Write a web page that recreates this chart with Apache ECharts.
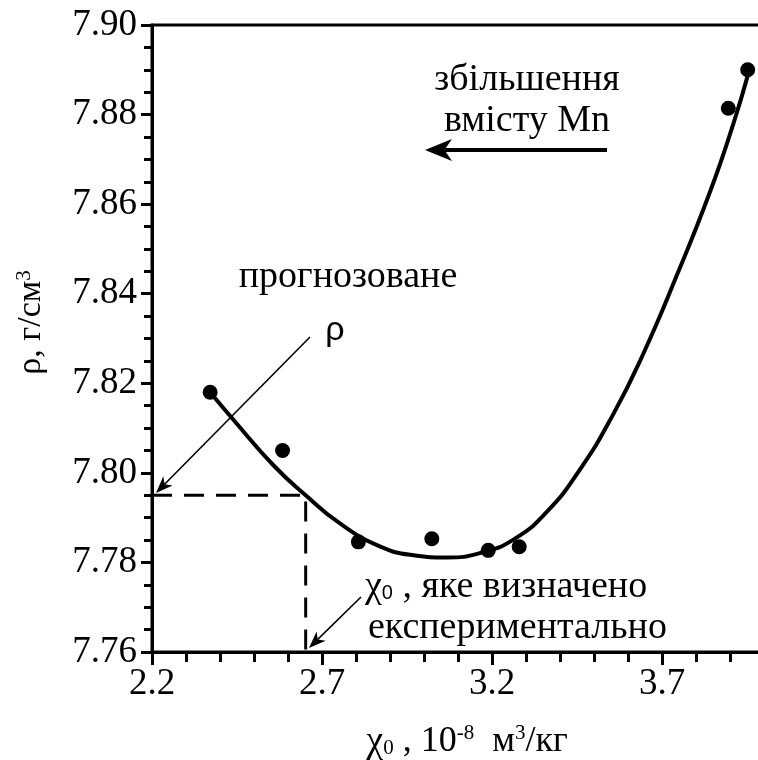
<!DOCTYPE html>
<html>
<head>
<meta charset="utf-8">
<script src="https://cdn.jsdelivr.net/npm/echarts@6/dist/echarts.min.js"></script>
<style>
  html, body { margin: 0; padding: 0; background: #fff; }
  #chart { width: 758px; height: 760px; }
</style>
</head>
<body>
<div id="chart"></div>
<script>
// Measured points: susceptibility χ0 (10^-8 m^3/kg) vs density ρ (g/cm^3)
const pointX = [2.371, 2.584, 2.807, 3.023, 3.189, 3.280, 3.895, 3.952];
const pointY = [7.818, 7.805, 7.7846, 7.7853, 7.7827, 7.7835, 7.8814, 7.890];

// Fitted curve through the measurements
const curveX = [2.371, 2.44, 2.557, 2.652, 2.753, 2.87, 2.969, 3.067, 3.165, 3.263, 3.361, 3.459, 3.556, 3.645, 3.743, 3.841, 3.91, 3.954];
const curveY = [7.818, 7.8118, 7.8017, 7.795, 7.7887, 7.7836, 7.7816, 7.7811, 7.7821, 7.7851, 7.7913, 7.8008, 7.8130, 7.8266, 7.8440, 7.8627, 7.878, 7.8892];

// Projection of the experimental χ0 onto the curve and the predicted ρ
const guideX = [2.2, 2.652, 2.652];
const guideY = [7.795, 7.795, 7.76];

// Axis ticks
const xTickLabels = [2.2, 2.7, 3.2, 3.7];
const yTickLabels = [7.76, 7.78, 7.80, 7.82, 7.84, 7.86, 7.88, 7.90];

const zip = (xs, ys) => xs.map((x, i) => [x, ys[i]]);

const SERIF = '"Liberation Serif", "Times New Roman", serif';
const INK = '#000';

// Straight arrow with a notched filled head, from (x1,y1) to the tip (x2,y2)
function arrow(x1, y1, x2, y2, lw, headLen, headW) {
  const dx = x2 - x1, dy = y2 - y1, L = Math.hypot(dx, dy);
  const ux = dx / L, uy = dy / L, px = -uy, py = ux;
  const bx = x2 - ux * headLen, by = y2 - uy * headLen;
  const nx = x2 - ux * headLen * 0.72, ny = y2 - uy * headLen * 0.72;
  return {
    type: 'group',
    children: [
      { type: 'line', shape: { x1: x1, y1: y1, x2: nx, y2: ny },
        style: { stroke: INK, lineWidth: lw } },
      { type: 'polygon',
        shape: { points: [[x2, y2], [bx + px * headW / 2, by + py * headW / 2], [nx, ny], [bx - px * headW / 2, by - py * headW / 2]] },
        style: { fill: INK } }
    ]
  };
}

function label(text, x, y, align, extra) {
  return {
    type: 'text',
    style: Object.assign({
      text: text, x: x, y: y,
      font: '38px ' + SERIF,
      fill: INK, align: align, verticalAlign: 'middle'
    }, extra || {})
  };
}

const chart = echarts.init(document.getElementById('chart'), null, { renderer: 'canvas' });

chart.setOption({
  backgroundColor: '#fff',
  animation: false,
  grid: {
    left: 152, top: 25, width: 680, bottom: 108,
    outerBoundsMode: 'none', containLabel: false,
    show: true, borderColor: INK, borderWidth: 3, backgroundColor: 'transparent'
  },
  xAxis: [
    {
      type: 'value', min: 2.2, max: 4.2, interval: 0.1,
      position: 'bottom',
      name: '{chi|χ}{sub|0}{t| , 10}{sup|-8}{t|  м}{sup|3}{t|/кг}',
      nameLocation: 'middle', nameGap: 71,
      nameTextStyle: {
        padding: [0, 50, 0, 0],
        rich: {
          chi: { fontFamily: SERIF, fontSize: 38, color: INK },
          t: { fontFamily: SERIF, fontSize: 36, color: INK },
          sub: { fontFamily: SERIF, fontSize: 21, color: INK, verticalAlign: 'bottom', padding: [0, 0, 2, 0] },
          sup: { fontFamily: SERIF, fontSize: 21, color: INK, verticalAlign: 'top' }
        }
      },
      axisLine: { show: true, onZero: false, lineStyle: { color: INK, width: 3 } },
      axisTick: { show: true, inside: false, length: 10, lineStyle: { color: INK, width: 3 } },
      axisLabel: {
        customValues: xTickLabels,
        formatter: v => v.toFixed(1),
        fontFamily: SERIF, fontSize: 37, color: INK, margin: 14
      },
      splitLine: { show: false }
    },
    {
      type: 'value', min: 2.2, max: 4.2,
      position: 'bottom',
      axisLine: { show: false },
      axisTick: { show: true, customValues: xTickLabels, length: 13, lineStyle: { color: INK, width: 3 } },
      axisLabel: { show: false },
      splitLine: { show: false }
    }
  ],
  yAxis: {
    type: 'value', min: 7.76, max: 7.90, interval: 0.02,
    name: '{t|ρ, г/см}{sup|3}',
    nameLocation: 'middle', nameRotate: 90, nameGap: 104,
    nameTextStyle: {
      padding: [0, 0, 0, 32],
      rich: {
        t: { fontFamily: SERIF, fontSize: 34, color: INK },
        sup: { fontFamily: SERIF, fontSize: 21, color: INK, verticalAlign: 'top' }
      }
    },
    axisLine: { show: true, onZero: false, lineStyle: { color: INK, width: 3 } },
    axisTick: { show: true, length: 11, lineStyle: { color: INK, width: 3 } },
    minorTick: { show: true, splitNumber: 4, length: 8, lineStyle: { color: INK, width: 3 } },
    axisLabel: {
      formatter: v => v.toFixed(2),
      fontFamily: SERIF, fontSize: 37, color: INK, margin: 15
    },
    splitLine: { show: false },
    minorSplitLine: { show: false }
  },
  series: [
    {
      type: 'line', name: 'guide',
      data: zip(guideX, guideY),
      symbol: 'none', silent: true, z: 1,
      lineStyle: { color: INK, width: 3, type: [20, 12] }
    },
    {
      type: 'line', name: 'fit',
      data: zip(curveX, curveY),
      smooth: 0.5, symbol: 'none', z: 2,
      lineStyle: { color: INK, width: 4 }
    },
    {
      type: 'scatter', name: 'measured',
      data: zip(pointX, pointY),
      symbol: 'circle', symbolSize: 15, z: 3,
      itemStyle: { color: INK, opacity: 1 }
    }
  ],
  graphic: [
    label('збільшення', 527, 80, 'center'),
    label('вмісту Mn', 527, 121, 'center'),
    arrow(607, 150, 425, 150, 4, 27, 22),
    label('прогнозоване', 348, 277, 'center'),
    label('ρ', 335, 331, 'center', { font: '34px "Liberation Sans", Arial, sans-serif' }),
    arrow(310, 337, 156, 493, 1.6, 17, 13),
    {
      type: 'text',
      style: {
        text: '{chi|χ}{sub|0}{t| , яке визначено}',
        x: 365, y: 587, align: 'left', verticalAlign: 'middle',
        rich: {
          chi: { fontFamily: SERIF, fontSize: 38, fill: INK },
          t: { fontFamily: SERIF, fontSize: 38, fill: INK },
          sub: { fontFamily: 'Liberation Sans, sans-serif', fontSize: 20, fill: INK, verticalAlign: 'bottom', padding: [0, 0, 3, 0] }
        }
      }
    },
    label('експериментально', 368, 628, 'left'),
    arrow(361, 597, 309, 648, 1.6, 17, 13)
  ]
});
</script>
</body>
</html>
